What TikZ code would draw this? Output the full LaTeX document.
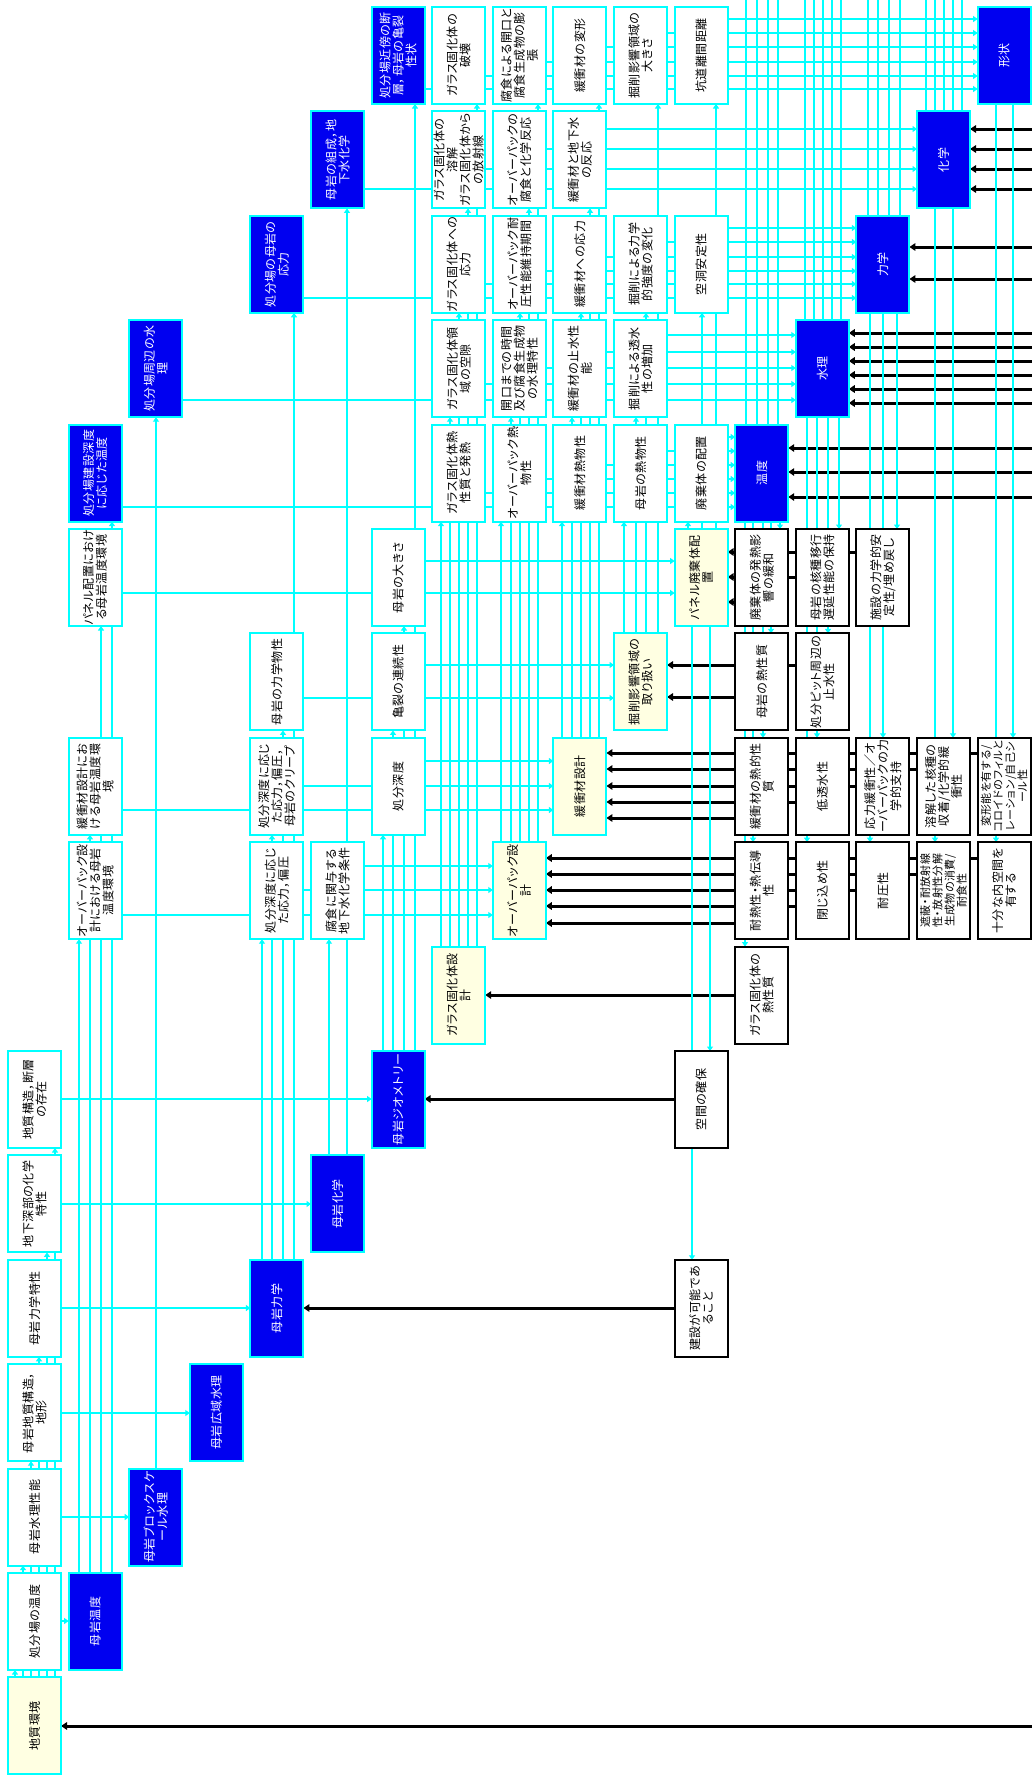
\documentclass[tikz,border=0pt]{standalone}
\usepackage{fontspec}
\setmainfont{Noto Sans CJK JP}[RawFeature={+palt},LetterSpace=4]
\usetikzlibrary{arrows.meta}
\definecolor{cyanc}{RGB}{0,255,255}
\definecolor{dblue}{RGB}{0,0,240}
\definecolor{ivory}{RGB}{255,255,226}
\pgfdeclarelayer{paper}
\pgfdeclarelayer{blines}
\pgfdeclarelayer{clines}
\pgfsetlayers{paper,blines,clines,main}

% box on the 17x17 grid: name, column, row, box style, label options, text
\newcommand\Bx[6]{%
  \node[#4] (#1) at ({34.5+60.6*#2},{55.5+104.4*(#3-1)}) {};
  \node[lbl,#5] (#1-l) at (#1) {#6};}
% cyan: horizontal (left box -> right box at height y)
\newcommand\LH[3]{\draw[cya] (#1.east |- 0,#3) -- (#2.west |- 0,#3);}
% cyan: upward (lower box -> upper box at abscissa x)
\newcommand\LU[3]{\draw[cya] (#1.north -| #3,0) -- (#2.south -| #3,0);}
% cyan: downward (upper box -> lower box at abscissa x)
\newcommand\LD[3]{\draw[cya] (#1.south -| #3,0) -- (#2.north -| #3,0);}
% cyan: from a box up to the top edge
\newcommand\LT[2]{\draw[cyl] (#1.north -| #2,0) -- (top -| #2,0);}
% black: leftward (right box -> left box at height y)
\newcommand\LK[3]{\draw[bka] (#1.west |- 0,#3) -- (#2.east |- 0,#3);}
% black: from the right edge into a box
\newcommand\LR[2]{\draw[bka] (redge |- 0,#2) -- (#1.east |- 0,#2);}

\begin{document}
\begin{tikzpicture}[x=1pt,y=-1pt,
  cell/.style={rectangle,minimum width=53pt,minimum height=97pt,inner sep=0pt,outer sep=0pt,line width=2pt},
  wb/.style={cell,draw=cyanc,fill=white},
  bb/.style={cell,draw=cyanc,fill=dblue},
  yb/.style={cell,draw=cyanc,fill=ivory},
  kb/.style={cell,draw=black,fill=white},
  lbl/.style={rotate=90,align=center,inner sep=0pt,font=\fontsize{12}{13}\selectfont},
  wt/.style={text=white},
  sm/.style={font=\fontsize{11}{12.2}\selectfont},
  cyl/.style={draw=cyanc,line width=2.8pt},
  cya/.style={cyl,-{Triangle[length=4.5pt,width=6pt]}},
  bka/.style={draw=black,line width=3pt,-{Triangle[length=6pt,width=7.5pt]}}]

\useasboundingbox (0,0) rectangle (1032,1775);
\begin{pgfonlayer}{paper}
  \fill[white] (0,0) rectangle (1032,1775);
\end{pgfonlayer}
\coordinate (top) at (0,0);
\coordinate (redge) at (1032,0);

% ---------- row 1 ----------
\Bx{n16}{6}{1}{bb}{wt}{処分場近傍の断\\層，母岩の亀裂\\性状}
\Bx{g1}{7}{1}{wb}{}{ガラス固化体の\\破壊}
\Bx{o1}{8}{1}{wb}{}{腐食による開口と\\腐食生成物の膨\\張}
\Bx{k1}{9}{1}{wb}{}{緩衝材の変形}
\Bx{e1}{10}{1}{wb}{}{掘削影響領域の\\大きさ}
\Bx{t1}{11}{1}{wb}{}{坑道離間距離}
\Bx{shape}{16}{1}{bb}{wt}{形状}
% ---------- row 2 ----------
\Bx{rock2}{5}{2}{bb}{wt}{母岩の組成，地\\下水化学}
\Bx{g2}{7}{2}{wb}{}{ガラス固化体の\\溶解\\ガラス固化体から\\の放射線}
\Bx{o2}{8}{2}{wb}{}{オーバーパックの\\腐食と化学反応}
\Bx{k2}{9}{2}{wb}{}{緩衝材と地下水\\の反応}
\Bx{chem}{15}{2}{bb}{wt}{化学}
% ---------- row 3 ----------
\Bx{rock3}{4}{3}{bb}{wt}{処分場の母岩の\\応力}
\Bx{g3}{7}{3}{wb}{}{ガラス固化体への\\応力}
\Bx{o3}{8}{3}{wb}{}{オーバーパック耐\\圧性能維持期間}
\Bx{k3}{9}{3}{wb}{}{緩衝材への応力}
\Bx{e3}{10}{3}{wb}{}{掘削による力学\\的強度の変化}
\Bx{t3}{11}{3}{wb}{}{空洞安定性}
\Bx{mech}{14}{3}{bb}{wt}{力学}
% ---------- row 4 ----------
\Bx{rock4}{2}{4}{bb}{wt}{処分場周辺の水\\理}
\Bx{g4}{7}{4}{wb}{}{ガラス固化体領\\域の空隙}
\Bx{o4}{8}{4}{wb}{}{開口までの時間\\及び腐食生成物\\の水理特性}
\Bx{k4}{9}{4}{wb}{}{緩衝材の止水性\\能}
\Bx{e4}{10}{4}{wb}{}{掘削による透水\\性の増加}
\Bx{hyd}{13}{4}{bb}{wt}{水理}
% ---------- row 5 ----------
\Bx{rock5}{1}{5}{bb}{wt}{処分場建設深度\\に応じた温度}
\Bx{g5}{7}{5}{wb}{}{ガラス固化体熱\\性質と発熱}
\Bx{o5}{8}{5}{wb}{}{オーバーパック熱\\物性}
\Bx{k5}{9}{5}{wb}{}{緩衝材熱物性}
\Bx{e5}{10}{5}{wb}{}{母岩の熱物性}
\Bx{t5}{11}{5}{wb}{}{廃棄体の配置}
\Bx{temp}{12}{5}{bb}{wt}{温度}
% ---------- row 6 ----------
\Bx{pt6}{1}{6}{wb}{}{パネル配置におけ\\る母岩温度環境}
\Bx{size}{6}{6}{wb}{}{母岩の大きさ}
\Bx{panel}{11}{6}{yb}{}{パネル廃棄体配\\置}
\Bx{r6a}{12}{6}{kb}{}{廃棄体の発熱影\\響の緩和}
\Bx{r6b}{13}{6}{kb}{}{母岩の核種移行\\遅延性能の保持}
\Bx{r6c}{14}{6}{kb}{}{施設の力学的安\\定性/埋め戻し}
% ---------- row 7 ----------
\Bx{mp7}{4}{7}{wb}{}{母岩の力学物性}
\Bx{crack}{6}{7}{wb}{}{亀裂の連続性}
\Bx{edz}{10}{7}{yb}{}{掘削影響領域の\\取り扱い}
\Bx{r7a}{12}{7}{kb}{}{母岩の熱性質}
\Bx{r7b}{13}{7}{kb}{}{処分ピット周辺の\\止水性}
% ---------- row 8 ----------
\Bx{bt8}{1}{8}{wb}{}{緩衝材設計にお\\ける母岩温度環\\境}
\Bx{st8}{4}{8}{wb}{}{処分深度に応じ\\た応力，偏圧，\\母岩のクリープ}
\Bx{depth}{6}{8}{wb}{}{処分深度}
\Bx{bufd}{9}{8}{yb}{}{緩衝材設計}
\Bx{r8a}{12}{8}{kb}{}{緩衝材の熱的性\\質}
\Bx{r8b}{13}{8}{kb}{}{低透水性}
\Bx{r8c}{14}{8}{kb}{}{応力緩衝性／オ\\ーバーパックの力\\学的支持}
\Bx{r8d}{15}{8}{kb}{}{溶解した核種の\\収着/化学的緩\\衝性}
\Bx{r8e}{16}{8}{kb}{sm}{変形能を有する/\\コロイドのフィルと\\レーション/自己シ\\ール性}
% ---------- row 9 ----------
\Bx{ot9}{1}{9}{wb}{}{オーバーパック設\\計における母岩\\温度環境}
\Bx{st9}{4}{9}{wb}{}{処分深度に応じ\\た応力，偏圧}
\Bx{gw9}{5}{9}{wb}{}{腐食に関与する\\地下水化学条件}
\Bx{opd}{8}{9}{yb}{}{オーバーパック設\\計}
\Bx{r9a}{12}{9}{kb}{}{耐熱性・熱伝導\\性}
\Bx{r9b}{13}{9}{kb}{}{閉じ込め性}
\Bx{r9c}{14}{9}{kb}{}{耐圧性}
\Bx{r9d}{15}{9}{kb}{sm}{遮蔽・耐放射線\\性・放射性分解\\生成物の消費/\\耐食性}
\Bx{r9e}{16}{9}{kb}{}{十分な内空間を\\有する}
% ---------- row 10 ----------
\Bx{gld}{7}{10}{yb}{}{ガラス固化体設\\計}
\Bx{r10a}{12}{10}{kb}{}{ガラス固化体の\\熱性質}
% ---------- rows 11-17 ----------
\Bx{geo11}{0}{11}{wb}{}{地質構造，断層\\の存在}
\Bx{geom}{6}{11}{bb}{wt}{母岩ジオメトリー}
\Bx{space}{11}{11}{kb}{}{空間の確保}
\Bx{geo12}{0}{12}{wb}{}{地下深部の化学\\特性}
\Bx{rchem}{5}{12}{bb}{wt}{母岩化学}
\Bx{geo13}{0}{13}{wb}{}{母岩力学特性}
\Bx{rmech}{4}{13}{bb}{wt}{母岩力学}
\Bx{build}{11}{13}{kb}{}{建設が可能であ\\ること}
\Bx{geo14}{0}{14}{wb}{}{母岩地質構造，\\地形}
\Bx{rwide}{3}{14}{bb}{wt}{母岩広域水理}
\Bx{geo15}{0}{15}{wb}{}{母岩水理性能}
\Bx{rblock}{2}{15}{bb}{wt}{母岩ブロックスケ\\ール水理}
\Bx{geo16}{0}{16}{wb}{}{処分場の温度}
\Bx{rtemp}{1}{16}{bb}{wt}{母岩温度}
\Bx{env}{0}{17}{yb}{}{地質環境}

% ---------- black requirement links ----------
\begin{pgfonlayer}{blines}
  \LK{r6c}{panel}{552} \LK{r6b}{panel}{577} \LK{r6a}{panel}{602}
  \LK{r7b}{edz}{665} \LK{r7a}{edz}{697}
  \LK{r8e}{bufd}{753} \LK{r8d}{bufd}{769} \LK{r8c}{bufd}{786}
  \LK{r8b}{bufd}{802} \LK{r8a}{bufd}{818}
  \LK{r9e}{opd}{858} \LK{r9d}{opd}{874} \LK{r9c}{opd}{890}
  \LK{r9b}{opd}{906} \LK{r9a}{opd}{923}
  \LK{r10a}{gld}{995}
  \LK{space}{geom}{1099}
  \LK{build}{rmech}{1308}
  \LR{env}{1726}
  \LR{chem}{129} \LR{chem}{149} \LR{chem}{169} \LR{chem}{189}
  \LR{mech}{247} \LR{mech}{279}
  \LR{hyd}{333} \LR{hyd}{347} \LR{hyd}{361} \LR{hyd}{375} \LR{hyd}{389} \LR{hyd}{403}
  \LR{temp}{448} \LR{temp}{472} \LR{temp}{497}
\end{pgfonlayer}

% ---------- cyan links ----------
\begin{pgfonlayer}{clines}
  % geological environment to its items
  \LU{env}{geo16}{15} \LU{env}{geo15}{23} \LU{env}{geo14}{31}
  \LU{env}{geo13}{39} \LU{env}{geo12}{47} \LU{env}{geo11}{55}
  \LH{geo16}{rtemp}{1621} \LH{geo15}{rblock}{1517} \LH{geo14}{rwide}{1413}
  \LH{geo13}{rmech}{1308} \LH{geo12}{rchem}{1204} \LH{geo11}{geom}{1099}
  % host rock items upward
  \LU{rtemp}{ot9}{79} \LU{rtemp}{bt8}{90} \LU{rtemp}{pt6}{101} \LU{rtemp}{rock5}{112}
  \LU{rblock}{rock4}{156}
  \LU{rmech}{st9}{262} \LU{rmech}{st8}{272} \LU{rmech}{mp7}{283} \LU{rmech}{rock3}{294}
  \LU{rchem}{gw9}{329} \LU{rchem}{rock2}{347}
  \LU{geom}{depth}{383} \LU{geom}{crack}{393} \LU{geom}{size}{404} \LU{geom}{n16}{415}
  % rows into the design boxes
  \LH{pt6}{panel}{593} \LH{size}{panel}{561}
  \LH{mp7}{edz}{698} \LH{crack}{edz}{665}
  \LH{bt8}{bufd}{810} \LH{st8}{bufd}{786} \LH{depth}{bufd}{761}
  \LH{ot9}{opd}{915} \LH{st9}{opd}{890} \LH{gw9}{opd}{866}
  % design boxes upward to their characteristics
  \LU{gld}{g5}{441} \LU{gld}{g4}{450} \LU{gld}{g3}{459} \LU{gld}{g2}{468} \LU{gld}{g1}{477}
  \LU{opd}{o5}{501} \LU{opd}{o4}{511} \LU{opd}{o3}{520} \LU{opd}{o2}{529} \LU{opd}{o1}{538}
  \LU{bufd}{k5}{562} \LU{bufd}{k4}{572} \LU{bufd}{k3}{581} \LU{bufd}{k2}{590} \LU{bufd}{k1}{599}
  \LU{edz}{e5}{624} \LU{edz}{e4}{636} \LU{edz}{e3}{646} \LU{edz}{e1}{658}
  \LU{panel}{t5}{688} \LU{panel}{t3}{702} \LU{panel}{t1}{716}
  \LD{panel}{space}{710} \LD{panel}{build}{692}
  % characteristics rows into the blue groups
  \LH{n16}{shape}{89} \LH{g1}{shape}{76} \LH{o1}{shape}{62}
  \LH{k1}{shape}{47} \LH{e1}{shape}{33} \LH{t1}{shape}{19}
  \LH{rock2}{chem}{189} \LH{g2}{chem}{169} \LH{o2}{chem}{149} \LH{k2}{chem}{129}
  \LH{rock3}{mech}{298} \LH{g3}{mech}{284} \LH{o3}{mech}{271}
  \LH{k3}{mech}{257} \LH{e3}{mech}{242} \LH{t3}{mech}{228}
  \LH{rock4}{hyd}{400} \LH{g4}{hyd}{384} \LH{o4}{hyd}{368} \LH{k4}{hyd}{352} \LH{e4}{hyd}{335}
  \LH{rock5}{temp}{507} \LH{g5}{temp}{493} \LH{o5}{temp}{479}
  \LH{k5}{temp}{465} \LH{e5}{temp}{451} \LH{t5}{temp}{437}
  % blue groups down to the requirements
  \LD{temp}{r6a}{780} \LD{temp}{r7a}{771} \LD{temp}{r8a}{763} \LD{temp}{r9a}{753} \LD{temp}{r10a}{745}
  \LD{hyd}{r6b}{839} \LD{hyd}{r7b}{828} \LD{hyd}{r8b}{817} \LD{hyd}{r9b}{807}
  \LD{mech}{r6c}{897} \LD{mech}{r8c}{883} \LD{mech}{r9c}{870}
  \LD{chem}{r8d}{953} \LD{chem}{r9d}{935}
  \LD{shape}{r8e}{1013} \LD{shape}{r9e}{996}
  % blue groups up to the top edge
  \LT{temp}{746} \LT{temp}{757} \LT{temp}{768} \LT{temp}{778}
  \LT{hyd}{805} \LT{hyd}{814} \LT{hyd}{823} \LT{hyd}{832} \LT{hyd}{841}
  \LT{mech}{868} \LT{mech}{878} \LT{mech}{889} \LT{mech}{900}
  \LT{chem}{926} \LT{chem}{935} \LT{chem}{944} \LT{chem}{953} \LT{chem}{962}
\end{pgfonlayer}
\end{tikzpicture}
\end{document}
